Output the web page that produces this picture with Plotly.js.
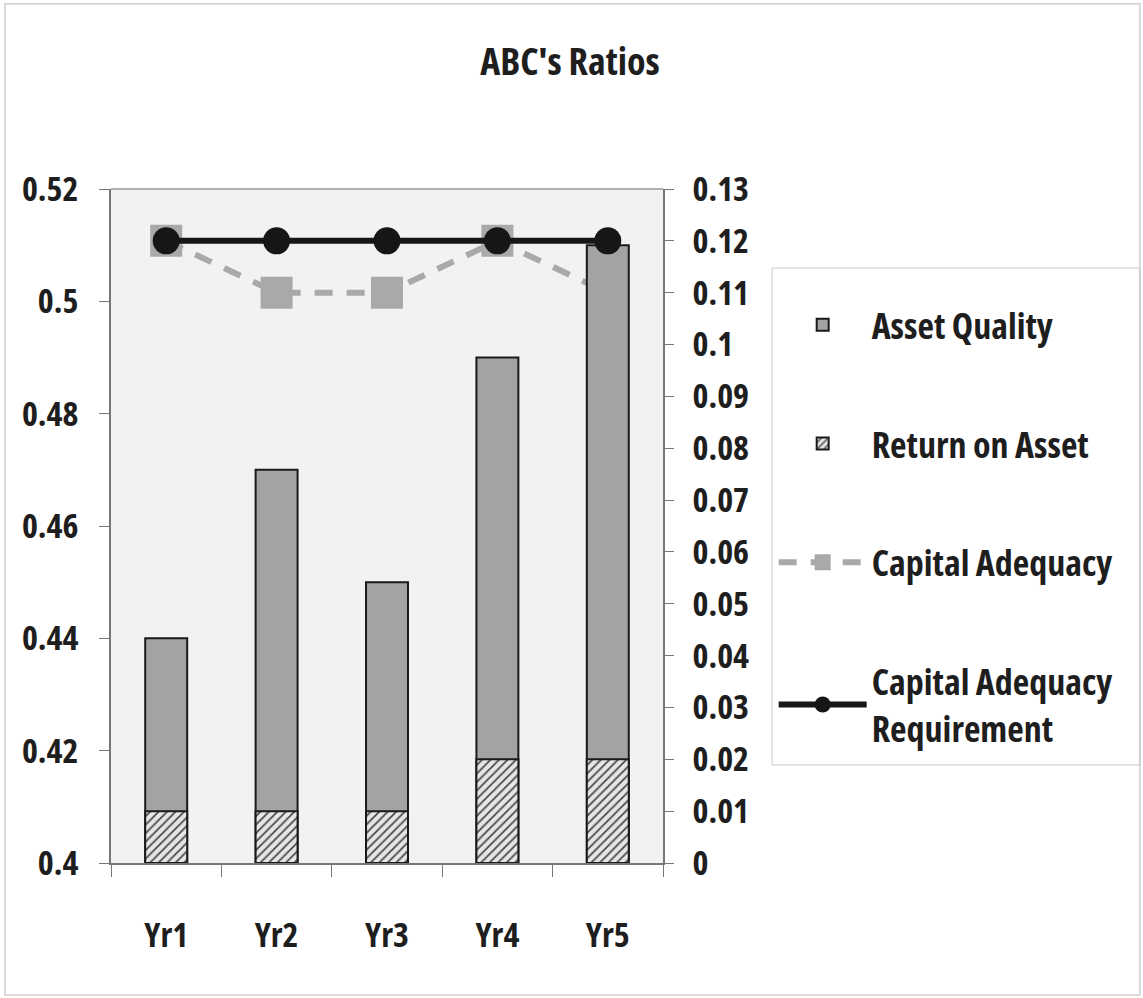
<!DOCTYPE html>
<html>
<head>
<meta charset="utf-8">
<script src="https://cdn.plot.ly/plotly-3.0.1.min.js"></script>
<style>html,body{margin:0;padding:0;background:#fff;}#chart{width:1143px;height:998px;}
#chart text{font-stretch:75%;}</style>
</head>
<body>
<div id="chart"></div>
<script>
const years = ["Yr1", "Yr2", "Yr3", "Yr4", "Yr5"];
const assetQuality = [0.44, 0.47, 0.45, 0.49, 0.51];
const returnOnAsset = [0.01, 0.01, 0.01, 0.02, 0.02];
const capitalAdequacy = [0.12, 0.11, 0.11, 0.12, 0.11];
const capitalAdequacyReq = [0.12, 0.12, 0.12, 0.12, 0.12];
const leftTicks = [0.4, 0.42, 0.44, 0.46, 0.48, 0.5, 0.52];
const rightTicks = [0, 0.01, 0.02, 0.03, 0.04, 0.05, 0.06, 0.07, 0.08, 0.09, 0.1, 0.11, 0.12, 0.13];

const FONT = "Open Sans, Liberation Sans, sans-serif";
const TXT = "#1e1e1e";

const traces = [
  {
    type: "bar", name: "Asset Quality", x: years, y: assetQuality,
    yaxis: "y2", width: 0.38, legendgroup: "a",
    marker: {color: "#a3a3a3", line: {color: "#1a1a1a", width: 2}}
  },
  {
    type: "bar", name: "Return on Asset", x: years, y: returnOnAsset,
    yaxis: "y3", width: 0.38, legendgroup: "b",
    marker: {color: "#e6e6e6", line: {color: "#1a1a1a", width: 2},
      pattern: {shape: "/", fgcolor: "#4a4a4a", bgcolor: "#e6e6e6", size: 6, solidity: 0.3}}
  },
  {
    type: "scatter", mode: "lines+markers", name: "Capital Adequacy", x: years, y: capitalAdequacy,
    yaxis: "y", legendgroup: "c",
    line: {color: "#a9a9a9", width: 6, dash: "18px,14px"},
    marker: {symbol: "square", size: 32, color: "#a9a9a9"}
  },
  {
    type: "scatter", mode: "lines+markers", name: "Capital Adequacy<br>Requirement", x: years, y: capitalAdequacyReq,
    yaxis: "y3", legendgroup: "d",
    line: {color: "#161616", width: 6},
    marker: {symbol: "circle", size: 27, color: "#161616"}
  }
];

const layout = {
  width: 1143, height: 998,
  margin: {l: 111, r: 480, t: 189, b: 135, autoexpand: false},
  paper_bgcolor: "#ffffff",
  plot_bgcolor: "#f2f2f2",
  font: {family: FONT, color: TXT, size: 34, weight: "bold"},
  title: {text: "ABC's Ratios", x: 0.4987, xref: "container", y: 0.9379, yref: "container",
    xanchor: "center", yanchor: "middle", font: {family: FONT, size: 38, weight: "bold", color: TXT}},
  barmode: "overlay",
  showlegend: true,
  legend: {
    x: 1.2005, y: 0.843, xanchor: "left", yanchor: "top",
    bgcolor: "rgba(0,0,0,0)", borderwidth: 0,
    font: {family: FONT, size: 36, weight: "bold", color: TXT},
    traceorder: "grouped", tracegroupgap: 69, itemwidth: 88
  },
  xaxis: {
    type: "category", showgrid: false, zeroline: false,
    showline: true, linecolor: "#777777", linewidth: 1.5,
    ticks: "outside", tickson: "boundaries", ticklen: 12, tickcolor: "#777777",
    ticklabelstandoff: 41,
    tickfont: {family: FONT, size: 34, weight: "bold", color: TXT}
  },
  yaxis: {range: [0, 0.13], visible: false, showgrid: false, zeroline: false},
  yaxis2: {
    overlaying: "y", side: "left", range: [0.4, 0.52], tickvals: leftTicks,
    showgrid: false, zeroline: false,
    showline: true, linecolor: "#777777", linewidth: 1.5,
    ticks: "outside", ticklen: 10, tickcolor: "#777777", ticklabelstandoff: 14,
    tickfont: {family: FONT, size: 34, weight: "bold", color: TXT}
  },
  yaxis3: {
    overlaying: "y", side: "right", range: [0, 0.13], tickvals: rightTicks,
    showgrid: false, zeroline: false,
    showline: true, linecolor: "#777777", linewidth: 1.5,
    ticks: "outside", ticklen: 9, tickcolor: "#777777", ticklabelstandoff: 12,
    tickfont: {family: FONT, size: 34, weight: "bold", color: TXT}
  },
  shapes: [
    {type: "line", xref: "paper", yref: "paper", x0: 0, x1: 1, y0: 1, y1: 1,
      line: {color: "#999999", width: 1.5}},
    {type: "rect", xref: "paper", yref: "paper", x0: 1.1975, x1: 1.864, y0: 0.1454, y1: 0.8828,
      line: {color: "#c8c8c8", width: 1}, fillcolor: "rgba(0,0,0,0)"},
    {type: "rect", xref: "paper", yref: "paper", x0: -0.192, x1: 1.864, y0: -0.196, y1: 1.275,
      line: {color: "#cfcfcf", width: 1.5}, layer: "below"}
  ]
};

Plotly.newPlot("chart", traces, layout, {displayModeBar: false, responsive: false});
</script>
</body>
</html>
